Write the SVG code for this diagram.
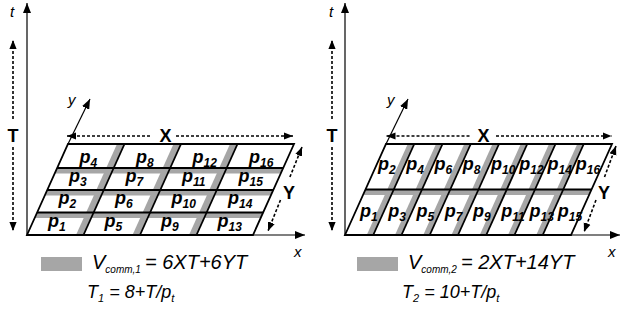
<svg xmlns="http://www.w3.org/2000/svg" width="621" height="320" viewBox="0 0 621 320">
<style>
.grid{fill:none;stroke:#000;stroke-width:1.8;stroke-linejoin:miter}
.band{fill:#a6a6a6;stroke:none}
.axis{fill:none;stroke:#000;stroke-width:1.2}
.dim{fill:none;stroke:#000;stroke-width:1.6;stroke-dasharray:3 2}
.pl{font-family:"Liberation Sans",Arial,sans-serif;font-weight:bold;font-style:italic;font-size:18px;fill:#000}
.s{font-size:12px}
.big{font-family:"Liberation Sans",Arial,sans-serif;font-weight:bold;font-size:18px;fill:#000;text-anchor:middle}
.ax{font-family:"Liberation Sans",Arial,sans-serif;font-style:italic;font-size:15px;fill:#000}
.eq{font-family:"Liberation Sans",Arial,sans-serif;font-style:italic;font-size:20px;fill:#000}
.eq2{font-family:"Liberation Sans",Arial,sans-serif;font-style:italic;font-size:18px;fill:#000}
.es{font-size:10px}
.es2{font-size:11px}
</style>
<defs>
<marker id="ah" viewBox="0 0 10 8" refX="10" refY="4" markerWidth="10" markerHeight="8" markerUnits="userSpaceOnUse" orient="auto-start-reverse"><path d="M0,0 L10,4 L0,8 z" fill="#000"/></marker>
<marker id="dh" viewBox="0 0 10 8" refX="10" refY="4" markerWidth="9" markerHeight="8" markerUnits="userSpaceOnUse" orient="auto-start-reverse"><path d="M0,0 L10,4 L0,8 z" fill="#000"/></marker>
</defs>

<!-- LEFT PANEL -->
<g id="grid-left">
  <g id="bands-left">
    <polygon class="band" points="76,235 83.5,235 124.5,144 117,144"/>
    <polygon class="band" points="132.5,235 140,235 181,144 173.5,144"/>
    <polygon class="band" points="189,235 196.5,235 237.5,144 230,144"/>
    <polygon class="band" points="37.14,212.5 263.14,212.5 260.66,218 34.66,218"/>
    <polygon class="band" points="47.27,190 273.27,190 270.8,195.5 44.8,195.5"/>
    <polygon class="band" points="57.18,168 283.18,168 280.71,173.5 54.71,173.5"/>
  </g>
  <g id="lines-left">
    <polygon class="grid" points="27,235 253,235 294,144 68,144"/>
    <line class="grid" x1="37.14" y1="212.5" x2="263.14" y2="212.5"/>
    <line class="grid" x1="47.27" y1="190" x2="273.27" y2="190"/>
    <line class="grid" x1="57.18" y1="168" x2="283.18" y2="168"/>
    <line class="grid" x1="83.5" y1="235" x2="124.5" y2="144"/>
    <line class="grid" x1="140" y1="235" x2="181" y2="144"/>
    <line class="grid" x1="196.5" y1="235" x2="237.5" y2="144"/>
  </g>
</g>
<g id="cells-left">
  <g id="L-p1"><text class="pl" x="48" y="226.5">p<tspan class="s" dy="4">1</tspan></text></g>
  <g id="L-p5"><text class="pl" x="104.5" y="226.5">p<tspan class="s" dy="4">5</tspan></text></g>
  <g id="L-p9"><text class="pl" x="161" y="226.5">p<tspan class="s" dy="4">9</tspan></text></g>
  <g id="L-p13"><text class="pl" x="217.5" y="226.5">p<tspan class="s" dy="4">13</tspan></text></g>
  <g id="L-p2"><text class="pl" x="58.5" y="204">p<tspan class="s" dy="4">2</tspan></text></g>
  <g id="L-p6"><text class="pl" x="115" y="204">p<tspan class="s" dy="4">6</tspan></text></g>
  <g id="L-p10"><text class="pl" x="171.5" y="204">p<tspan class="s" dy="4">10</tspan></text></g>
  <g id="L-p14"><text class="pl" x="228" y="204">p<tspan class="s" dy="4">14</tspan></text></g>
  <g id="L-p3"><text class="pl" x="69" y="182">p<tspan class="s" dy="4">3</tspan></text></g>
  <g id="L-p7"><text class="pl" x="125.5" y="182">p<tspan class="s" dy="4">7</tspan></text></g>
  <g id="L-p11"><text class="pl" x="182" y="182">p<tspan class="s" dy="4">11</tspan></text></g>
  <g id="L-p15"><text class="pl" x="238.5" y="182">p<tspan class="s" dy="4">15</tspan></text></g>
  <g id="L-p4"><text class="pl" x="79.5" y="163">p<tspan class="s" dy="4">4</tspan></text></g>
  <g id="L-p8"><text class="pl" x="136" y="163">p<tspan class="s" dy="4">8</tspan></text></g>
  <g id="L-p12"><text class="pl" x="192.5" y="163">p<tspan class="s" dy="4">12</tspan></text></g>
  <g id="L-p16"><text class="pl" x="249" y="163">p<tspan class="s" dy="4">16</tspan></text></g>
</g>

<!-- RIGHT PANEL -->
<g id="grid-right">
  <g id="bands-right">
    <polygon class="band" points="366.75,235 373.25,235 414.25,144 407.75,144"/>
    <polygon class="band" points="395,235 401.5,235 442.5,144 436,144"/>
    <polygon class="band" points="423.25,235 429.75,235 470.75,144 464.25,144"/>
    <polygon class="band" points="451.5,235 458,235 499,144 492.5,144"/>
    <polygon class="band" points="479.75,235 486.25,235 527.25,144 520.75,144"/>
    <polygon class="band" points="508,235 514.5,235 555.5,144 549,144"/>
    <polygon class="band" points="536.25,235 542.75,235 583.75,144 577.25,144"/>
    <polygon class="band" points="365.5,189.5 591.5,189.5 589.02,195 363.02,195"/>
  </g>
  <g id="lines-right">
    <polygon class="grid" points="345,235 571,235 612,144 386,144"/>
    <line class="grid" x1="365.5" y1="189.5" x2="591.5" y2="189.5"/>
    <line class="grid" x1="373.25" y1="235" x2="414.25" y2="144"/>
    <line class="grid" x1="401.5" y1="235" x2="442.5" y2="144"/>
    <line class="grid" x1="429.75" y1="235" x2="470.75" y2="144"/>
    <line class="grid" x1="458" y1="235" x2="499" y2="144"/>
    <line class="grid" x1="486.25" y1="235" x2="527.25" y2="144"/>
    <line class="grid" x1="514.5" y1="235" x2="555.5" y2="144"/>
    <line class="grid" x1="542.75" y1="235" x2="583.75" y2="144"/>
  </g>
</g>
<g id="cells-right">
  <g id="R-p1"><text class="pl" x="360" y="217">p<tspan class="s" dy="4">1</tspan></text></g>
  <g id="R-p3"><text class="pl" x="388.25" y="217">p<tspan class="s" dy="4">3</tspan></text></g>
  <g id="R-p5"><text class="pl" x="416.5" y="217">p<tspan class="s" dy="4">5</tspan></text></g>
  <g id="R-p7"><text class="pl" x="444.75" y="217">p<tspan class="s" dy="4">7</tspan></text></g>
  <g id="R-p9"><text class="pl" x="473" y="217">p<tspan class="s" dy="4">9</tspan></text></g>
  <g id="R-p11"><text class="pl" x="501.25" y="217">p<tspan class="s" dy="4">11</tspan></text></g>
  <g id="R-p13"><text class="pl" x="529.5" y="217">p<tspan class="s" dy="4">13</tspan></text></g>
  <g id="R-p15"><text class="pl" x="557.75" y="217">p<tspan class="s" dy="4">15</tspan></text></g>
  <g id="R-p2"><text class="pl" x="378" y="170">p<tspan class="s" dy="4">2</tspan></text></g>
  <g id="R-p4"><text class="pl" x="406.25" y="170">p<tspan class="s" dy="4">4</tspan></text></g>
  <g id="R-p6"><text class="pl" x="434.5" y="170">p<tspan class="s" dy="4">6</tspan></text></g>
  <g id="R-p8"><text class="pl" x="462.75" y="170">p<tspan class="s" dy="4">8</tspan></text></g>
  <g id="R-p10"><text class="pl" x="491" y="170">p<tspan class="s" dy="4">10</tspan></text></g>
  <g id="R-p12"><text class="pl" x="519.25" y="170">p<tspan class="s" dy="4">12</tspan></text></g>
  <g id="R-p14"><text class="pl" x="547.5" y="170">p<tspan class="s" dy="4">14</tspan></text></g>
  <g id="R-p16"><text class="pl" x="575.75" y="170">p<tspan class="s" dy="4">16</tspan></text></g>
</g>

<!-- CONNECTORS: axes and dimension arrows -->
<g id="connectors">
  <line class="axis" x1="27" y1="235" x2="27" y2="3" marker-end="url(#ah)"/>
  <line class="axis" x1="27" y1="235" x2="305" y2="235" marker-end="url(#ah)"/>
  <line class="axis" x1="68" y1="144" x2="90" y2="99" marker-end="url(#ah)"/>
  <line class="dim" x1="67" y1="136" x2="152" y2="136" marker-start="url(#dh)"/>
  <line class="dim" x1="176" y1="136" x2="293" y2="136" marker-end="url(#dh)"/>
  <line class="dim" x1="13" y1="119" x2="13" y2="40" marker-end="url(#dh)"/>
  <line class="dim" x1="13" y1="147" x2="13" y2="231" marker-end="url(#dh)"/>
  <line class="dim" x1="289.9" y1="177" x2="302" y2="147" marker-end="url(#dh)"/>
  <line class="dim" x1="280.5" y1="200" x2="268" y2="231" marker-end="url(#dh)"/>

  <line class="axis" x1="345" y1="235" x2="345" y2="3" marker-end="url(#ah)"/>
  <line class="axis" x1="345" y1="235" x2="620" y2="235" marker-end="url(#ah)"/>
  <line class="axis" x1="386" y1="144" x2="408" y2="99" marker-end="url(#ah)"/>
  <line class="dim" x1="386.5" y1="136" x2="470" y2="136" marker-start="url(#dh)"/>
  <line class="dim" x1="496" y1="136" x2="611.5" y2="136" marker-end="url(#dh)"/>
  <line class="dim" x1="332" y1="119" x2="332" y2="40" marker-end="url(#dh)"/>
  <line class="dim" x1="332" y1="147" x2="332" y2="231" marker-end="url(#dh)"/>
  <line class="dim" x1="604.5" y1="177" x2="616" y2="146" marker-end="url(#dh)"/>
  <line class="dim" x1="596" y1="200" x2="584" y2="232" marker-end="url(#dh)"/>
</g>

<g id="labels">
  <text class="ax" x="10" y="17">t</text>
  <text class="ax" x="68" y="105">y</text>
  <text class="ax" x="294" y="257">x</text>
  <text class="big" x="165.5" y="142">X</text>
  <text class="big" x="13" y="142">T</text>
  <text class="big" x="289" y="199">Y</text>

  <text class="ax" x="329" y="17">t</text>
  <text class="ax" x="387" y="105">y</text>
  <text class="ax" x="608" y="257">x</text>
  <text class="big" x="483.5" y="142">X</text>
  <text class="big" x="332" y="142">T</text>
  <text class="big" x="604" y="199">Y</text>
</g>

<g id="legend-left">
  <rect class="band" x="41" y="257" width="41" height="14"/>
  <text class="eq" x="92" y="269">V<tspan class="es" dy="4">comm,1</tspan><tspan x="145" dy="-4">= 6XT+6YT</tspan></text>
  <text class="eq2" x="87" y="298">T<tspan class="es2" dy="4">1</tspan><tspan dy="-4"> = 8+T/p</tspan><tspan class="es2" dy="4">t</tspan></text>
</g>
<g id="legend-right">
  <rect class="band" x="357" y="257" width="41" height="14"/>
  <text class="eq" x="408" y="269">V<tspan class="es" dy="4">comm,2</tspan><tspan x="461" dy="-4">= 2XT+14YT</tspan></text>
  <text class="eq2" x="402" y="298">T<tspan class="es2" dy="4">2</tspan><tspan dy="-4"> = 10+T/p</tspan><tspan class="es2" dy="4">t</tspan></text>
</g>
</svg>
